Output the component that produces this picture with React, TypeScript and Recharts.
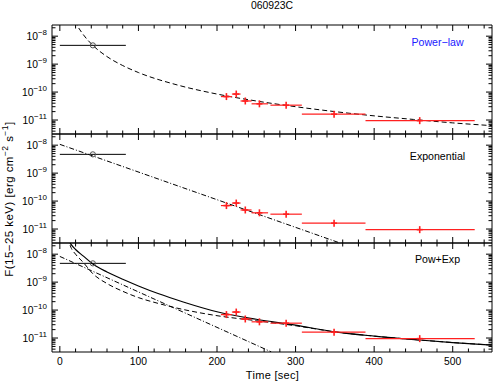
import React from 'react';
import { ComposedChart, Line, Scatter, XAxis, YAxis, ErrorBar } from 'recharts';

// ---------- data (fluxes in erg cm^-2 s^-1, times in sec) ----------
const blackTimes = [42];
const blackLow = [0];
const blackHigh = [84];
const blackFlux = [4.7e-9];

const redTimes = [212, 224.5, 236, 254, 288, 349, 458];
const redLow = [205, 219, 230, 244, 268, 308, 389];
const redHigh = [219, 230, 244, 265, 308, 389, 528];
const redFlux = [6.9e-11, 8.5e-11, 4.8e-11, 3.8e-11, 3.4e-11, 1.62e-11, 9.5e-12];

// panel 1: power-law model (dashed)
const plTimes = [15, 21, 30, 42, 60, 80, 100, 150, 200, 250, 300, 350, 400, 450, 500, 550];
const plFlux = [6.5e-8, 2.75e-8, 1.12e-8, 4.7e-9, 1.86e-9, 8.9e-10, 5.0e-10, 1.78e-10, 8.5e-11, 4.8e-11, 3.0e-11, 2.0e-11, 1.41e-11, 1.05e-11, 7.9e-12, 6.3e-12];

// panel 2: exponential model (dash-dot)
const expTimes = [0, 356];
const expFlux = [1.07e-8, 3.2e-12];

// panel 3: pow+exp model
const sumTimes = [8, 14, 20, 30, 42, 60, 80, 100, 125, 157, 200, 250, 300, 350, 400, 458, 500, 550];
const sumFlux = [4.47e-8, 2.29e-8, 1.47e-8, 8.5e-9, 4.45e-9, 2.3e-9, 1.26e-9, 7.3e-10, 3.9e-10, 1.95e-10, 8.7e-11, 4.7e-11, 2.88e-11, 1.66e-11, 1.17e-11, 8.5e-12, 6.9e-12, 5.6e-12];
const pwTimes = [10, 14, 20, 30, 42, 60, 80, 100, 125, 157, 200, 250, 300, 350, 400, 458, 500, 550];
const pwFlux = [4.0e-8, 1.78e-8, 1.0e-8, 5.0e-9, 2.0e-9, 8.9e-10, 4.7e-10, 2.8e-10, 1.74e-10, 1.05e-10, 6.3e-11, 4.17e-11, 2.75e-11, 1.66e-11, 1.17e-11, 8.5e-12, 6.9e-12, 5.6e-12];
const ex3Times = [0, 269];
const ex3Flux = [8.3e-9, 3.2e-12];

const xTickValues = [0, 20, 40, 60, 80, 100, 120, 140, 160, 180, 200, 220, 240, 260, 280, 300, 320, 340, 360, 380, 400, 420, 440, 460, 480, 500, 520, 540];
const xMajorLabels = [0, 100, 200, 300, 400, 500];
const yDecades = [-12, -11, -10, -9, -8];
const yMinorMultipliers = [1, 2, 3, 4, 5, 6, 7, 8, 9];

const panelNames = ['Power\u2212law', 'Exponential', 'Pow+Exp'];
const titleText = '060923C';
const xLabelText = 'Time [sec]';

// ---------- layout ----------
const X_DOMAIN: [number, number] = [-10, 550];
const Y_DOMAIN: [number, number] = [-11.5, -7.6];
const PANEL_H = 109;
const PANEL_TOPS = [25, 134, 243];
const FONT = '"Liberation Sans", Arial, Helvetica, sans-serif';

const yTicks: number[] = [];
yDecades.forEach((d) => {
  yMinorMultipliers.forEach((k) => {
    const v = d + Math.log10(k);
    if (v >= Y_DOMAIN[0] - 1e-9 && v <= Y_DOMAIN[1] + 1e-9) yTicks.push(v);
  });
});

const toLog = (ts: number[], fs: number[]) => ts.map((t, i) => ({ t, y: Math.log10(fs[i]) }));
const blackData = blackTimes.map((t, i) => ({ t, y: Math.log10(blackFlux[i]), xe: [t - blackLow[i], blackHigh[i] - t] }));
const redData = redTimes.map((t, i) => ({ t, y: Math.log10(redFlux[i]), xe: [t - redLow[i], redHigh[i] - t] }));
const plData = toLog(plTimes, plFlux);
const expData = toLog(expTimes, expFlux);
const sumData = toLog(sumTimes, sumFlux);
const pwData = toLog(pwTimes, pwFlux);
const ex3Data = toLog(ex3Times, ex3Flux);

const isMajorY = (v: number) => Math.abs(v - Math.round(v)) < 1e-6;

const makeXTick = (dir: number, showLabel: boolean) => (props: any) => {
  const { x, y, payload } = props;
  const v = payload.value;
  const major = xMajorLabels.includes(v);
  const len = major ? 6 : 3.5;
  return (
    <g key={'xt' + dir + v}>
      <path d={`M${x},${y}L${x},${y + dir * len}`} stroke="#000" strokeWidth={1} fill="none" />
      {showLabel && major ? (
        <text x={x} y={y + 12.5} textAnchor="middle" fontSize={10.3} fontFamily={FONT} fill="#000">
          {v}
        </text>
      ) : null}
    </g>
  );
};

const makeYTick = (dir: number, showLabel: boolean) => (props: any) => {
  const { x, y, payload } = props;
  const v = payload.value;
  const major = isMajorY(v);
  const len = major ? 6 : 3.5;
  return (
    <g key={'yt' + dir + v}>
      <path d={`M${x},${y}L${x + dir * len},${y}`} stroke="#000" strokeWidth={1} fill="none" />
      {showLabel && major ? (
        <text x={x - 5} y={y + 4} textAnchor="end" fontSize={10.3} fontFamily={FONT} fill="#000">
          <tspan>10</tspan>
          <tspan dy={-5.5} fontSize={8}>{'\u2212' + Math.abs(Math.round(v))}</tspan>
        </text>
      ) : null}
    </g>
  );
};

const xTickBottomLabel = makeXTick(-1, true);
const xTickBottom = makeXTick(-1, false);
const xTickTop = makeXTick(1, false);
const yTickLeft = makeYTick(1, true);
const yTickRight = makeYTick(-1, false);

const RedPlus = (p: any) => (
  <g>
    <line x1={p.cx - 3} x2={p.cx + 3} y1={p.cy} y2={p.cy} stroke="#ff2020" strokeWidth={1.6} />
    <line x1={p.cx} x2={p.cx} y1={p.cy - 3.5} y2={p.cy + 3.5} stroke="#ff2020" strokeWidth={1.6} />
  </g>
);

const BlackCircle = (p: any) => (
  <g>
    <circle cx={p.cx} cy={p.cy} r={2.6} fill="none" stroke="#555" strokeWidth={1} />
  </g>
);

function Panel({ index, last }: { index: number; last: boolean }) {
  const mt = 4;
  const mb = last ? 29 : 4;
  const top = PANEL_TOPS[index];
  const series: React.ReactNode[] = [];
  if (index === 0) {
    series.push(
      <Line key="pl" data={plData} dataKey="y" xAxisId="b" yAxisId="l" type="monotone" stroke="#000" strokeWidth={1} strokeDasharray="5 3" dot={false} isAnimationActive={false} />
    );
  } else if (index === 1) {
    series.push(
      <Line key="ex" data={expData} dataKey="y" xAxisId="b" yAxisId="l" type="linear" stroke="#000" strokeWidth={1} strokeDasharray="5 2 1 2" dot={false} isAnimationActive={false} />
    );
  } else {
    series.push(
      <Line key="ex3" data={ex3Data} dataKey="y" xAxisId="b" yAxisId="l" type="linear" stroke="#000" strokeWidth={1} strokeDasharray="5 2 1 2" dot={false} isAnimationActive={false} />,
      <Line key="pw" data={pwData} dataKey="y" xAxisId="b" yAxisId="l" type="monotone" stroke="#000" strokeWidth={1} strokeDasharray="5 3" dot={false} isAnimationActive={false} />,
      <Line key="sum" data={sumData} dataKey="y" xAxisId="b" yAxisId="l" type="monotone" stroke="#000" strokeWidth={1.2} dot={false} isAnimationActive={false} />
    );
  }
  return (
    <div style={{ position: 'absolute', left: 0, top: top - mt - 1 }}>
      <ComposedChart width={494} height={PANEL_H + mt + mb + 2} margin={{ top: mt, right: 1, bottom: mb, left: 0 }}>
        <XAxis
          xAxisId="b"
          dataKey="t"
          type="number"
          orientation="bottom"
          domain={X_DOMAIN}
          ticks={xTickValues}
          interval={0}
          height={1}
          tickSize={0}
          tickMargin={0}
          tickLine={false}
          allowDataOverflow
          stroke="#000"
          axisLine={{ stroke: '#000', strokeWidth: 1 }}
          tick={last ? xTickBottomLabel : xTickBottom}
        />
        <XAxis
          xAxisId="t"
          dataKey="t"
          type="number"
          orientation="top"
          domain={X_DOMAIN}
          ticks={xTickValues}
          interval={0}
          height={1}
          tickSize={0}
          tickMargin={0}
          tickLine={false}
          allowDataOverflow
          stroke="#000"
          axisLine={{ stroke: '#000', strokeWidth: 1 }}
          tick={xTickTop}
        />
        <YAxis
          yAxisId="l"
          type="number"
          orientation="left"
          domain={Y_DOMAIN}
          ticks={yTicks}
          interval={0}
          width={52}
          tickSize={0}
          tickMargin={0}
          tickLine={false}
          allowDataOverflow
          stroke="#000"
          axisLine={{ stroke: '#000', strokeWidth: 1 }}
          tick={yTickLeft}
        />
        <YAxis
          yAxisId="r"
          type="number"
          orientation="right"
          domain={Y_DOMAIN}
          ticks={yTicks}
          interval={0}
          width={1}
          tickSize={0}
          tickMargin={0}
          tickLine={false}
          allowDataOverflow
          stroke="#000"
          axisLine={{ stroke: '#000', strokeWidth: 1 }}
          tick={yTickRight}
        />
        {series}
        <Scatter data={blackData} dataKey="y" xAxisId="b" yAxisId="l" shape={BlackCircle} isAnimationActive={false}>
          <ErrorBar dataKey="xe" direction="x" width={0} stroke="#000" strokeWidth={1} />
        </Scatter>
        <Scatter data={redData} dataKey="y" xAxisId="b" yAxisId="l" shape={RedPlus} isAnimationActive={false}>
          <ErrorBar dataKey="xe" direction="x" width={0} stroke="#ff2020" strokeWidth={1.2} />
        </Scatter>
      </ComposedChart>
    </div>
  );
}

export default function App() {
  const labelY = [46, 159.5, 262.5];
  return (
    <div style={{ position: 'absolute', left: 0, top: 0, width: 494, height: 382, background: '#fff', overflow: 'hidden' }}>
      <Panel index={0} last={false} />
      <Panel index={1} last={false} />
      <Panel index={2} last={true} />
      <svg width={494} height={382} style={{ position: 'absolute', left: 0, top: 0, pointerEvents: 'none' }}>
        <text x={272} y={8.5} textAnchor="middle" fontSize={10.4} fontFamily={FONT} fill="#000">{titleText}</text>
        {panelNames.map((n, i) => (
          <text key={n} x={437.5} y={labelY[i]} textAnchor="middle" fontSize={10.6} fontFamily={FONT} fill={i === 0 ? '#2020ff' : '#000'}>
            {n}
          </text>
        ))}
        <text x={272.5} y={379} textAnchor="middle" fontSize={11} fontFamily={FONT} fill="#000" letterSpacing={0.3}>{xLabelText}</text>
        <text transform="translate(12.5,199) rotate(-90)" textAnchor="middle" fontSize={11.5} fontFamily={FONT} fill="#000" letterSpacing={0.45}>
          <tspan>F(15{'\u2212'}25 keV) [erg cm</tspan>
          <tspan dy={-5} fontSize={8.5}>{'\u2212'}2</tspan>
          <tspan dy={5}> s</tspan>
          <tspan dy={-5} fontSize={8.5}>{'\u2212'}1</tspan>
          <tspan dy={5}>]</tspan>
        </text>
      </svg>
    </div>
  );
}
